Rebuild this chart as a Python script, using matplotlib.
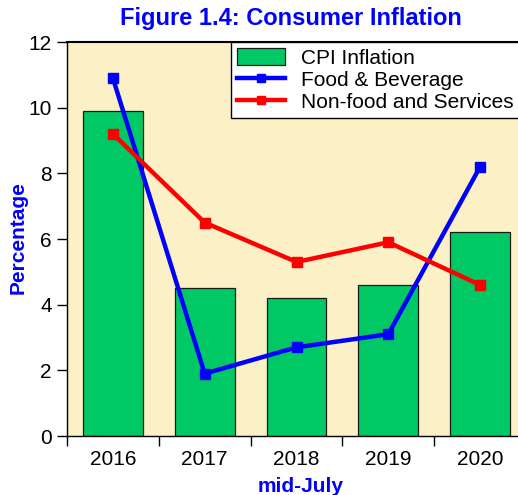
import matplotlib
matplotlib.use("Agg")
import matplotlib.pyplot as plt
import numpy as np
from matplotlib.patches import Patch
from matplotlib.lines import Line2D

years = ["2016", "2017", "2018", "2019", "2020"]
cpi = [9.9, 4.5, 4.2, 4.6, 6.2]
food = [10.9, 1.9, 2.7, 3.1, 8.2]
nonfood = [9.2, 6.5, 5.3, 5.9, 4.6]
yticks = [0, 2, 4, 6, 8, 10, 12]

plt.rcParams['font.family'] = ['Liberation Sans', 'DejaVu Sans']

W, H = 518, 495
fig = plt.figure(figsize=(W/100, H/100), dpi=100)
left, right, top, bottom = 67, 526, 42, 436
ax = fig.add_axes([left/W, 1-bottom/H, (right-left)/W, (bottom-top)/H])
ax.set_facecolor('#FBF0C6')

x = np.arange(len(years))
ax.bar(x, cpi, width=0.65, color='#00C864', edgecolor='#1a1a1a', linewidth=0.9, zorder=2)
ax.plot(x, food, color='#0000FF', lw=3.2, marker='s', ms=7.5, zorder=3)
ax.plot(x, nonfood, color='#FF0000', lw=3.2, marker='s', ms=7.5, zorder=3)

ax.set_xlim(-0.5, len(years)-0.5)
ax.set_ylim(0, 12)
ax.set_yticks(yticks)
ax.set_yticklabels([str(v) for v in yticks], fontsize=15)
ax.set_xticks(np.arange(-0.5, len(years), 1.0))
ax.set_xticklabels([])
ax.set_xticks(x, minor=True)
ax.set_xticklabels(years, minor=True, fontsize=15)
ax.tick_params(axis='x', which='major', length=7, width=1, direction='out')
ax.tick_params(axis='x', which='minor', length=0, pad=10)
ax.tick_params(axis='y', length=7, width=1, direction='out', pad=4)

ax.spines['right'].set_visible(False)
ax.spines['top'].set_linewidth(1.5)
ax.spines['left'].set_linewidth(1.0)
ax.spines['bottom'].set_linewidth(1.0)

fig.text(291/W, 1-19/H, "Figure 1.4: Consumer Inflation", fontsize=17, fontweight='bold',
         color='#0000FF', ha='center', va='center')
ax.set_ylabel("Percentage", fontsize=15, fontweight='bold', color='#0000FF')
ax.yaxis.set_label_coords((18-left)/(right-left), (bottom-238)/(bottom-top))
ax.set_xlabel("mid-July", fontsize=15, fontweight='bold', color='#0000FF')
ax.xaxis.set_label_coords((301-left)/(right-left), -(486-bottom)/(bottom-top))
ax.xaxis.label.set_va('center')
ax.yaxis.label.set_va('center')

handles = [Patch(facecolor='#00C864', edgecolor='#1a1a1a', linewidth=0.9),
           Line2D([], [], color='#0000FF', lw=3.2, marker='s', ms=6),
           Line2D([], [], color='#FF0000', lw=3.2, marker='s', ms=6)]
labels = ["CPI Inflation", "Food & Beverage", "Non-food and Services"]
leg = ax.legend(handles, labels, loc='upper left', bbox_to_anchor=((231-left)/(right-left), 1.0),
                borderaxespad=0, fontsize=15, fancybox=False, framealpha=1,
                edgecolor='black', handlelength=2.3, handleheight=0.85, labelspacing=0.12,
                borderpad=0.3, handletextpad=0.75)
leg.get_frame().set_linewidth(1.0)

fig.savefig("out.png", dpi=100)
